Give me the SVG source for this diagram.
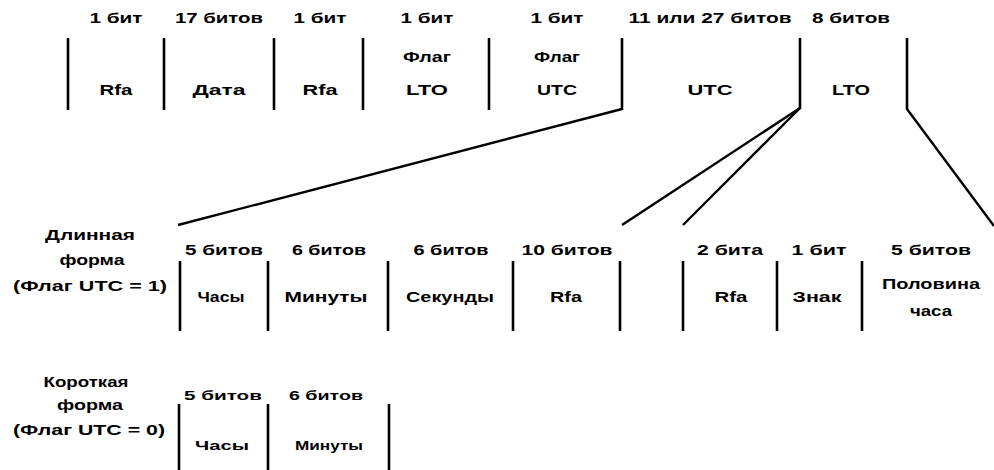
<svg xmlns="http://www.w3.org/2000/svg" width="994" height="470" viewBox="0 0 994 470">
<style>
text{font-family:"Liberation Sans",Arial,sans-serif;font-weight:bold;font-size:14px;fill:#000;text-anchor:middle}
.sm{font-size:13px}
.bar{stroke:#000;stroke-width:2.6;fill:none}
.con{stroke:#000;stroke-width:2.4;fill:none;stroke-linejoin:miter}
</style>
<rect width="994" height="470" fill="#fff"/>
<g id="top-bars">
<path class="bar" d="M68 38V110M164 38V110M274 38V110M363 38V110M489 38V110M622 38V110M800 38V109M907 38V110"/>
</g>
<g id="f-rfa1"><text x="116" y="23" textLength="53" lengthAdjust="spacingAndGlyphs">1 бит</text><text x="116" y="95" textLength="33" lengthAdjust="spacingAndGlyphs">Rfa</text></g>
<g id="f-date"><text x="219" y="23" textLength="88" lengthAdjust="spacingAndGlyphs">17 битов</text><text x="219" y="95" textLength="53" lengthAdjust="spacingAndGlyphs">Дата</text></g>
<g id="f-rfa2"><text x="320" y="23" textLength="53" lengthAdjust="spacingAndGlyphs">1 бит</text><text x="320" y="95" textLength="35" lengthAdjust="spacingAndGlyphs">Rfa</text></g>
<g id="f-ltoflag"><text x="427" y="23" textLength="53" lengthAdjust="spacingAndGlyphs">1 бит</text><text x="427" y="62" textLength="48" lengthAdjust="spacingAndGlyphs">Флаг</text><text x="427" y="95" textLength="42" lengthAdjust="spacingAndGlyphs">LTO</text></g>
<g id="f-utcflag"><text x="557" y="23" textLength="53" lengthAdjust="spacingAndGlyphs">1 бит</text><text x="557" y="62" textLength="46" lengthAdjust="spacingAndGlyphs">Флаг</text><text x="557" y="95" textLength="40" lengthAdjust="spacingAndGlyphs">UTC</text></g>
<g id="f-utc"><text x="710" y="23" textLength="163" lengthAdjust="spacingAndGlyphs">11 или 27 битов</text><text x="710" y="95" textLength="45" lengthAdjust="spacingAndGlyphs">UTC</text></g>
<g id="f-lto"><text x="851" y="23" textLength="78" lengthAdjust="spacingAndGlyphs">8 битов</text><text x="851" y="95" textLength="38" lengthAdjust="spacingAndGlyphs">LTO</text></g>

<g id="connectors">
<path class="con" d="M622 109L178 225"/>
<path class="con" d="M800 108L622 225"/>
<path class="con" d="M800 108L683 225"/>
<path class="con" d="M907 109L994 226"/>
</g>

<g id="long-form">
<text x="90" y="240" textLength="90" lengthAdjust="spacingAndGlyphs">Длинная</text>
<text x="92" y="265" textLength="65" lengthAdjust="spacingAndGlyphs">форма</text>
<text x="90" y="291" textLength="154" lengthAdjust="spacingAndGlyphs">(Флаг UTC = 1)</text>
</g>
<g id="long-bars">
<path class="bar" d="M180 261V331M268 261V331M388 261V331M513 261V331M620 261V331M683 261V331M777 261V331M862 261V331"/>
</g>
<g id="l-hours"><text x="224" y="255" textLength="78" lengthAdjust="spacingAndGlyphs">5 битов</text><text x="221" y="302" textLength="47" lengthAdjust="spacingAndGlyphs">Часы</text></g>
<g id="l-min"><text x="329" y="255" textLength="74" lengthAdjust="spacingAndGlyphs">6 битов</text><text x="326" y="302" textLength="83" lengthAdjust="spacingAndGlyphs">Минуты</text></g>
<g id="l-sec"><text x="451" y="255" textLength="75" lengthAdjust="spacingAndGlyphs">6 битов</text><text x="450" y="302" textLength="88" lengthAdjust="spacingAndGlyphs">Секунды</text></g>
<g id="l-rfa"><text x="567" y="255" textLength="91" lengthAdjust="spacingAndGlyphs">10 битов</text><text x="566" y="302" textLength="32" lengthAdjust="spacingAndGlyphs">Rfa</text></g>
<g id="l-lto-rfa"><text x="730" y="255" textLength="66" lengthAdjust="spacingAndGlyphs">2 бита</text><text x="731" y="302" textLength="33" lengthAdjust="spacingAndGlyphs">Rfa</text></g>
<g id="l-sign"><text x="819" y="255" textLength="55" lengthAdjust="spacingAndGlyphs">1 бит</text><text x="817" y="302" textLength="49" lengthAdjust="spacingAndGlyphs">Знак</text></g>
<g id="l-halfhour"><text x="931" y="255" textLength="80" lengthAdjust="spacingAndGlyphs">5 битов</text><text x="931" y="289" textLength="98" lengthAdjust="spacingAndGlyphs">Половина</text><text x="931" y="316" textLength="42" lengthAdjust="spacingAndGlyphs">часа</text></g>

<g id="short-form">
<text x="86" y="387" textLength="85" lengthAdjust="spacingAndGlyphs">Короткая</text>
<text x="90" y="410" textLength="66" lengthAdjust="spacingAndGlyphs">форма</text>
<text x="89" y="435" textLength="152" lengthAdjust="spacingAndGlyphs">(Флаг UTC = 0)</text>
</g>
<g id="short-bars">
<path class="bar" d="M179 404V470M268 404V470M389 404V470"/>
</g>
<g id="s-hours"><text class="sm" x="223" y="400" textLength="78" lengthAdjust="spacingAndGlyphs">5 битов</text><text class="sm" x="222" y="450" textLength="54" lengthAdjust="spacingAndGlyphs">Часы</text></g>
<g id="s-min"><text class="sm" x="326" y="400" textLength="74" lengthAdjust="spacingAndGlyphs">6 битов</text><text class="sm" x="329" y="450" textLength="68" lengthAdjust="spacingAndGlyphs">Минуты</text></g>
</svg>
